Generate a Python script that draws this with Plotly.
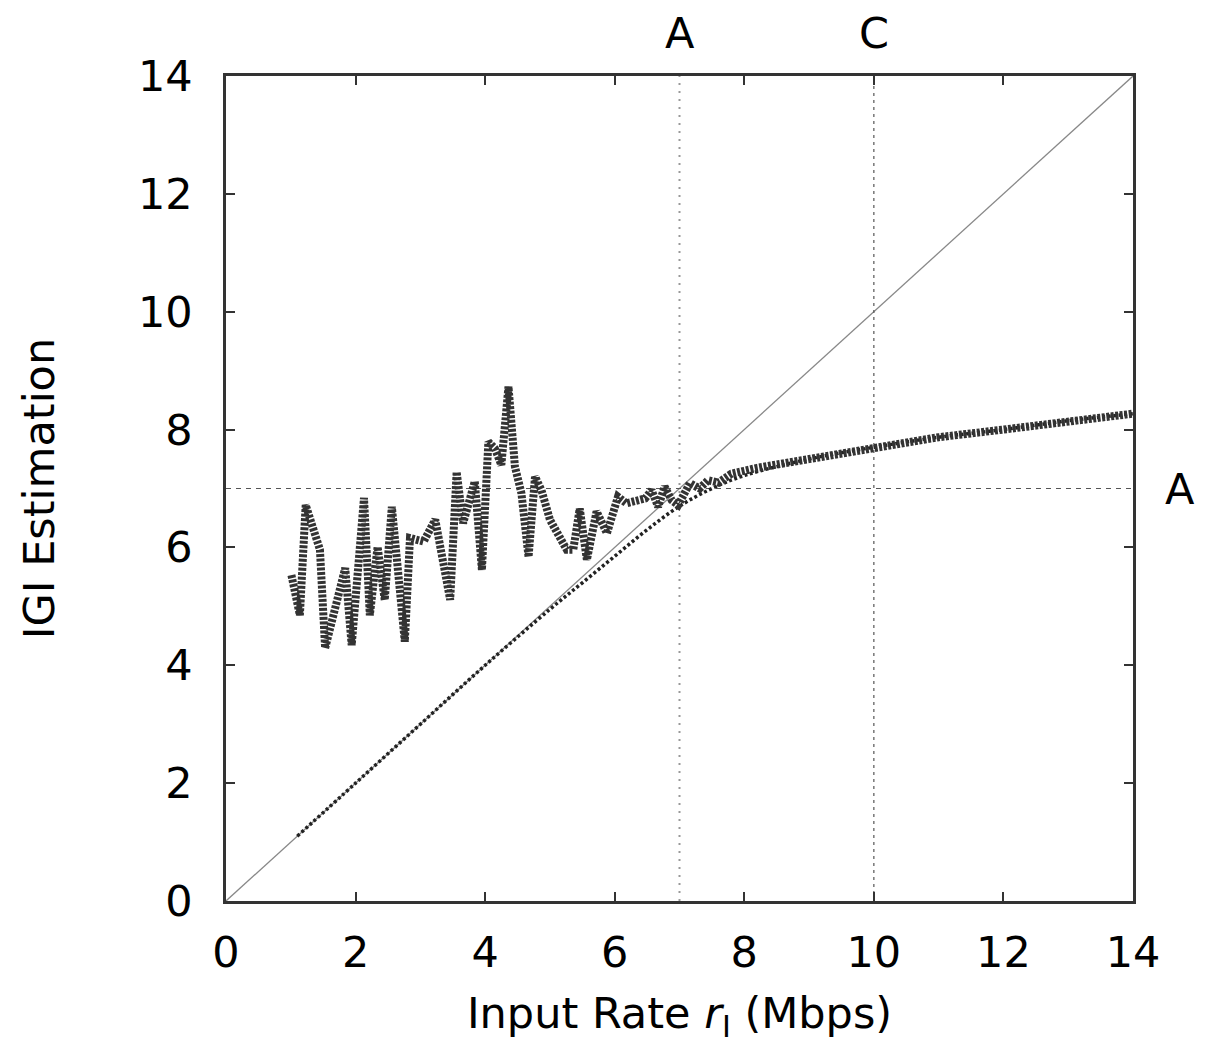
import plotly.graph_objects as go

# measured IGI estimates (noisy)
meas_x = [1.01, 1.14, 1.23, 1.40, 1.45, 1.53, 1.84, 1.94, 2.13, 2.22, 2.34, 2.45, 2.56,
          2.76, 2.84, 3.05, 3.23, 3.46, 3.56, 3.66, 3.84, 3.95, 4.05, 4.15, 4.25, 4.36,
          4.46, 4.56, 4.67, 4.77, 4.87, 5.00, 5.13, 5.26, 5.36, 5.46, 5.57, 5.72, 5.88,
          6.05, 6.18, 6.34, 6.47, 6.57, 6.67, 6.77, 6.88, 6.98, 7.16, 7.31, 7.44, 7.6,
          7.8, 8.0, 8.2, 9.0, 10.0, 11.0, 12.0, 13.0, 14.0]
meas_y = [5.53, 4.85, 6.72, 6.18, 5.96, 4.29, 5.65, 4.34, 6.84, 4.85, 6.01, 5.11, 6.69,
          4.40, 6.16, 6.10, 6.47, 5.11, 7.28, 6.41, 7.12, 5.62, 7.79, 7.68, 7.40, 8.73,
          7.37, 6.92, 5.84, 7.20, 6.97, 6.47, 6.18, 5.96, 5.96, 6.66, 5.79, 6.61, 6.24,
          6.86, 6.75, 6.80, 6.83, 6.97, 6.69, 7.03, 6.80, 6.72, 7.09, 7.00, 7.14, 7.10,
          7.25, 7.30, 7.35, 7.50, 7.70, 7.87, 8.00, 8.15, 8.27]

# model curve
model_x = [1.1, 2, 3, 4, 5, 5.5, 6, 6.5, 7, 7.5, 8, 9, 10, 11, 12, 13, 14]
model_y = [1.1, 2, 3, 4, 4.95, 5.4, 5.85, 6.3, 6.7, 7.0, 7.22, 7.5, 7.7, 7.87, 8.0, 8.15, 8.27]

diag = [0, 14]
avail_bw = 7   # A
capacity = 10  # C

FONT = "DejaVu Sans, Liberation Sans, sans-serif"
FSIZE = 43

fig = go.Figure()

# y = x reference
fig.add_trace(go.Scatter(x=diag, y=diag, mode="lines",
                         line=dict(color="#888888", width=1.3), showlegend=False))

# reference lines
fig.add_trace(go.Scatter(x=[0, 14], y=[avail_bw, avail_bw], mode="lines",
                         line=dict(color="#555555", width=1.2, dash="5px,5px"), showlegend=False))
fig.add_trace(go.Scatter(x=[avail_bw, avail_bw], y=[0, 14], mode="lines",
                         line=dict(color="#999999", width=2, dash="2px,6px"), showlegend=False))
fig.add_trace(go.Scatter(x=[capacity, capacity], y=[0, 14], mode="lines",
                         line=dict(color="#555555", width=1.2, dash="3px,4px"), showlegend=False))

fig.add_trace(go.Scatter(x=model_x, y=model_y, mode="lines", line_shape="spline",
                         line=dict(color="#222222", width=3.5, dash="3px,2.5px"), showlegend=False))
fig.add_trace(go.Scatter(x=meas_x, y=meas_y, mode="lines",
                         line=dict(color="#333333", width=8, dash="3px,1.5px"), showlegend=False))

axis_common = dict(
    range=[0, 14], dtick=2, ticks="inside", ticklen=9, tickwidth=1.5, tickcolor="#333",
    showline=True, linecolor="#333333", linewidth=2.5, mirror="allticks",
    showgrid=False, zeroline=False,
    tickfont=dict(family=FONT, size=FSIZE, color="black"),
)

fig.update_layout(
    width=1208, height=1048,
    paper_bgcolor="white", plot_bgcolor="white",
    margin=dict(l=218, r=83, t=68, b=155),
    font=dict(family=FONT, color="black"),
    xaxis=dict(**axis_common, ticklabelstandoff=12,
               title=dict(text="Input Rate <i>r</i><sub>I</sub> (Mbps)",
                          font=dict(family=FONT, size=FSIZE), standoff=22)),
    yaxis=dict(**axis_common, ticklabelstandoff=22,
               title=dict(text="IGI Estimation", font=dict(family=FONT, size=FSIZE), standoff=70)),
)

for txt, x in [("A", avail_bw), ("C", capacity)]:
    fig.add_annotation(text=txt, x=x, y=1.0, xref="x", yref="paper", yanchor="bottom",
                       yshift=16, showarrow=False, font=dict(family=FONT, size=FSIZE))
fig.add_annotation(text="A", x=1.0, y=avail_bw, xref="paper", yref="y", xanchor="left",
                   xshift=30, showarrow=False, font=dict(family=FONT, size=FSIZE))

fig.write_html("out.html")
